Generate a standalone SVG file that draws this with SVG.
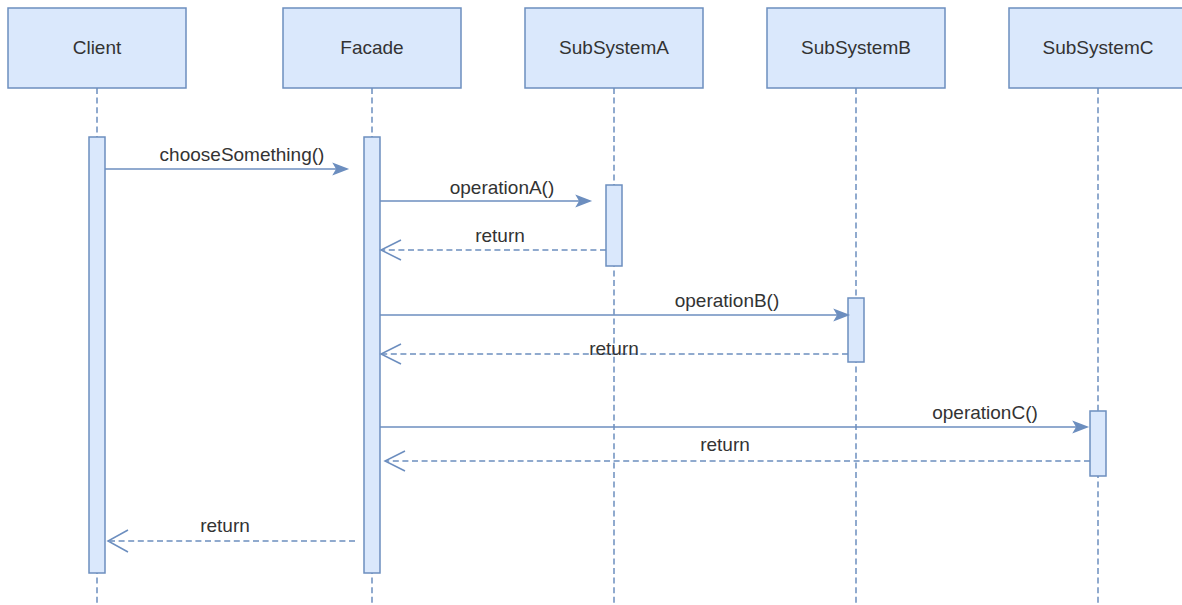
<svg xmlns="http://www.w3.org/2000/svg" width="1182" height="605" viewBox="0 0 1182 605">
<style>
.box{fill:#dae8fc;stroke:#6c8ebf;stroke-width:1.5}
.life{stroke:#6c8ebf;stroke-width:1.5;stroke-dasharray:6 3.6;fill:none}
.msg{stroke:#6c8ebf;stroke-width:1.5;fill:none}
.ret{stroke:#6c8ebf;stroke-width:1.5;fill:none;stroke-dasharray:6 3.6}
.open{stroke:#6c8ebf;stroke-width:1.5;fill:none}
.head{fill:#6c8ebf;stroke:#6c8ebf;stroke-width:1.5;stroke-linejoin:miter}
text{font-family:"Liberation Sans",Arial,sans-serif;font-size:19px;fill:#333333;text-anchor:middle}
</style>
<rect width="1182" height="605" fill="#ffffff"/>
<g id="lifelines">
<line class="life" x1="97" y1="88" x2="97" y2="605"/>
<line class="life" x1="372" y1="88" x2="372" y2="605"/>
<line class="life" x1="614" y1="88" x2="614" y2="605"/>
<line class="life" x1="856" y1="88" x2="856" y2="605"/>
<line class="life" x1="1098" y1="88" x2="1098" y2="605"/>
</g>
<g id="client">
<rect class="box" x="8" y="8" width="178" height="80"/>
<text x="97" y="54">Client</text>
<rect class="box" x="89" y="137" width="16" height="436"/>
</g>
<g id="facade">
<rect class="box" x="283" y="8" width="178" height="80"/>
<text x="372" y="54">Facade</text>
<rect class="box" x="364" y="137" width="16" height="436"/>
</g>
<g id="subsystemA">
<rect class="box" x="525" y="8" width="178" height="80"/>
<text x="614" y="54">SubSystemA</text>
<rect class="box" x="606" y="185" width="16" height="81"/>
</g>
<g id="subsystemB">
<rect class="box" x="767" y="8" width="178" height="80"/>
<text x="856" y="54">SubSystemB</text>
<rect class="box" x="848" y="298" width="16" height="64"/>
</g>
<g id="subsystemC">
<rect class="box" x="1009" y="8" width="178" height="80"/>
<text x="1098" y="54">SubSystemC</text>
<rect class="box" x="1090" y="411" width="16" height="65"/>
</g>
<g id="connectors">
<line class="msg" x1="105" y1="169" x2="336" y2="169"/>
<path class="head" d="M347,169 L334,164 L337,169 L334,174 Z"/>
<text x="242" y="161">chooseSomething()</text>

<line class="msg" x1="380" y1="201" x2="579" y2="201"/>
<path class="head" d="M590,201 L577,196 L580,201 L577,206 Z"/>
<text x="502" y="194">operationA()</text>

<line class="ret" x1="606" y1="250" x2="382" y2="250"/>
<path class="open" d="M401,240 L381,250 L401,260"/>
<text x="500" y="242">return</text>

<line class="msg" x1="380" y1="315" x2="837" y2="315"/>
<path class="head" d="M848,315 L835,310 L838,315 L835,320 Z"/>
<text x="727" y="307">operationB()</text>

<line class="ret" x1="848" y1="354" x2="382" y2="354"/>
<path class="open" d="M401,344 L381,354 L401,364"/>
<text x="614" y="355">return</text>

<line class="msg" x1="380" y1="427" x2="1076" y2="427"/>
<path class="head" d="M1087,427 L1074,422 L1077,427 L1074,432 Z"/>
<text x="985" y="419">operationC()</text>

<line class="ret" x1="1090" y1="461" x2="386" y2="461"/>
<path class="open" d="M405,451 L385,461 L405,471"/>
<text x="725" y="451">return</text>

<line class="ret" x1="355" y1="541" x2="110" y2="541"/>
<path class="open" d="M128,530 L108,541 L128,552"/>
<text x="225" y="532">return</text>
</g>
</svg>
